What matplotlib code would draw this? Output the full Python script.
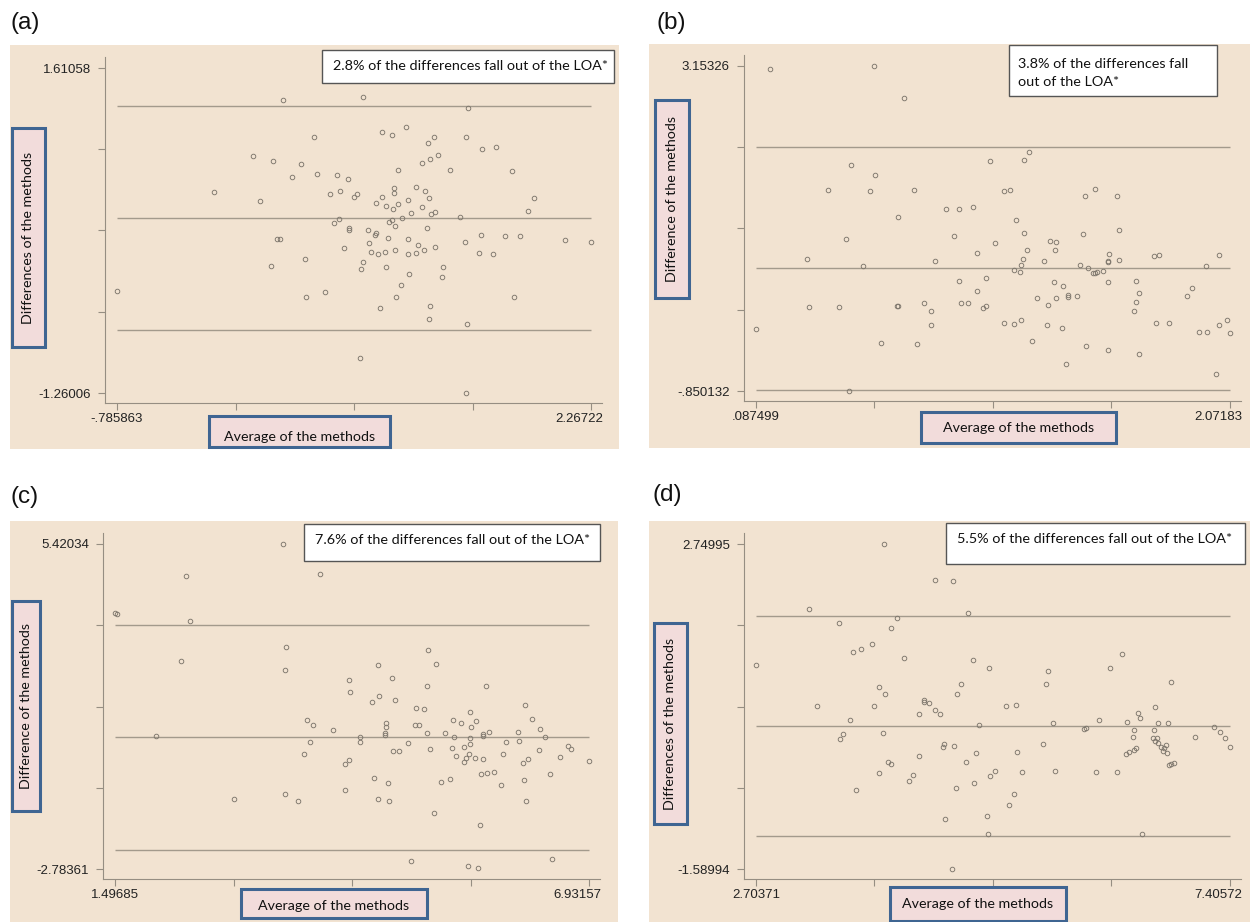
import numpy as np
import matplotlib
matplotlib.use("Agg")
import matplotlib.pyplot as plt
from matplotlib.patches import Rectangle
from matplotlib.transforms import ScaledTranslation

# ---------------- data ----------------

# (a)
a_avg = [0.286, 0.798, 1.475, 1.073, 0.921, 0.988, 0.483, 1.257, 1.460, 1.219,
         1.657, 1.567, 0.088, 1.280, 0.221, 1.229, 1.178, 0.401, 1.026, 1.357,
         1.760, 0.501, 0.634, 0.342, 0.701, 1.137, 0.998, 0.650, 1.198, -0.163,
         0.996, 0.583, 0.757, 0.739, 0.924, 1.221, 1.903, 1.088, 0.132, 0.880,
         1.026, 0.944, 1.178, 0.993, 1.860, 1.106, 1.260, 1.234, 1.424, 1.050,
         0.644, 0.985, 0.967, 0.614, 1.003, 0.711, 1.214, 0.711, 0.832, 0.880,
         0.873, 0.245, 0.263, 0.957, 1.088, 1.557, 1.713, 1.811, 2.101, 2.267,
         1.455, 0.839, 1.152, 0.678, 1.262, 1.006, 1.193, 0.850, 0.942, 0.898,
         1.091, 1.137, 1.544, 1.637, 0.427, 0.796, 0.209, 0.944, 0.785, 1.311,
         1.096, 1.306, 1.042, -0.786, 0.555, 0.434, 1.011, 1.772, 1.231, 0.908,
         1.224, 1.467, 0.778, 1.460]
a_diff = [1.331, 1.352, 1.258, 1.088, 1.049, 1.020, 0.999, 0.999, 0.999, 0.950,
          0.914, 0.891, 0.835, 0.841, 0.791, 0.806, 0.773, 0.759, 0.714, 0.706,
          0.700, 0.670, 0.665, 0.650, 0.632, 0.562, 0.550, 0.526, 0.523, 0.512,
          0.506, 0.494, 0.500, 0.471, 0.468, 0.465, 0.459, 0.447, 0.438, 0.415,
          0.412, 0.394, 0.382, 0.365, 0.347, 0.330, 0.338, 0.324, 0.294, 0.288,
          0.277, 0.265, 0.253, 0.241, 0.218, 0.194, 0.197, 0.177, 0.180, 0.150,
          0.136, 0.097, 0.097, 0.106, 0.100, 0.133, 0.124, 0.130, 0.089, 0.077,
          0.077, 0.062, 0.050, 0.018, 0.033, 0.000, 0.000, -0.011, -0.017, -0.032,
          -0.029, -0.023, -0.026, -0.029, -0.073, -0.099, -0.135, -0.146, -0.164, -0.144,
          -0.211, -0.238, -0.305, -0.355, -0.367, -0.408, -0.414, -0.411, -0.490, -0.511,
          -0.605, -0.649, -0.954, -1.260]
a_lines = [1.273, 0.2855, -0.702]          # upper LOA, mean, lower LOA
a_x_ends = [-0.785863, 2.26722]
a_y_ends = [-1.26006, 1.61058]
a_x_labels = ["-.785863", "2.26722"]
a_y_labels = ["-1.26006", "1.61058"]

# (b)
b_avg = [0.148, 0.581, 0.706, 1.230, 1.211, 1.069, 0.486, 0.587, 0.389, 0.566,
         0.749, 1.124, 1.149, 1.505, 1.464, 1.599, 0.882, 0.936, 0.994, 0.681,
         1.174, 1.607, 1.211, 1.455, 0.916, 0.464, 1.089, 1.319, 1.345, 1.222,
         1.339, 1.011, 1.564, 1.755, 1.774, 2.025, 0.299, 1.206, 0.837, 1.295,
         1.562, 1.560, 1.609, 0.537, 1.195, 1.442, 1.973, 1.477, 1.167, 1.194,
         1.542, 1.517, 1.500, 1.507, 1.050, 0.939, 1.677, 1.560, 1.334, 1.374,
         1.914, 1.014, 1.690, 1.392, 1.395, 1.432, 1.890, 1.262, 1.342, 1.677,
         0.944, 0.976, 0.791, 1.309, 1.049, 1.037, 0.311, 0.437, 0.679, 0.682,
         1.670, 0.819, 1.197, 1.126, 1.166, 1.760, 1.815, 2.059, 0.821, 1.304,
         2.024, 1.369, 0.087, 1.942, 1.977, 2.072, 0.612, 0.761, 1.244, 1.469,
         1.562, 1.689, 1.387, 2.014, 0.476]
b_diff = [3.120, 3.153, 2.763, 2.089, 1.998, 1.978, 1.928, 1.805, 1.624, 1.608,
          1.628, 1.612, 1.628, 1.641, 1.550, 1.546, 1.390, 1.386, 1.411, 1.291,
          1.254, 1.127, 1.090, 1.082, 1.057, 1.020, 0.971, 0.995, 0.987, 0.889,
          0.884, 0.852, 0.839, 0.814, 0.827, 0.823, 0.782, 0.782, 0.753, 0.753,
          0.749, 0.741, 0.765, 0.691, 0.699, 0.699, 0.691, 0.662, 0.642, 0.613,
          0.629, 0.613, 0.605, 0.605, 0.539, 0.510, 0.506, 0.490, 0.490, 0.445,
          0.416, 0.379, 0.354, 0.334, 0.305, 0.317, 0.321, 0.301, 0.297, 0.251,
          0.239, 0.235, 0.239, 0.210, 0.202, 0.173, 0.186, 0.190, 0.194, 0.194,
          0.140, 0.132, 0.021, -0.012, -0.028, -0.012, -0.008, 0.021, -0.040, -0.032,
          -0.036, -0.073, -0.082, -0.123, -0.127, -0.135, -0.258, -0.275, -0.238, -0.299,
          -0.349, -0.394, -0.521, -0.641, -0.850]
b_lines = [2.158, 0.660, -0.838]
b_x_ends = [0.087499, 2.07183]
b_y_ends = [-0.850132, 3.15326]
b_x_labels = [".087499", "2.07183"]
b_y_labels = ["-.850132", "3.15326"]

# (c)
c_avg = [3.424, 2.310, 3.844, 1.497, 1.515, 2.356, 3.461, 2.250, 3.447, 5.091,
         5.173, 4.511, 4.671, 4.178, 5.073, 5.749, 4.191, 4.529, 4.447, 4.712,
         6.201, 4.945, 5.045, 5.566, 6.283, 3.694, 5.370, 5.466, 5.635, 4.607,
         4.602, 3.762, 4.936, 4.981, 5.575, 6.375, 3.995, 4.598, 4.593, 5.077,
         5.278, 5.721, 5.790, 6.119, 6.425, 4.301, 5.388, 5.571, 5.712, 1.972,
         3.730, 4.306, 5.977, 6.128, 4.858, 5.562, 6.694, 6.721, 5.502, 5.356,
         5.114, 6.361, 4.689, 4.749, 3.662, 5.941, 5.402, 5.557, 5.520, 5.630,
         5.721, 6.594, 6.237, 4.182, 4.137, 5.493, 6.178, 6.927, 5.845, 5.758,
         5.698, 6.484, 4.466, 5.342, 6.183, 4.630, 5.237, 5.927, 4.137, 3.447,
         2.862, 4.511, 4.644, 3.598, 6.206, 5.155, 5.680, 4.890, 6.512, 5.539,
         5.662]
c_diff = [5.420, 4.622, 4.664, 3.689, 3.655, 3.470, 2.831, 2.478, 2.235, 2.756,
          2.394, 2.361, 2.033, 1.999, 1.840, 1.831, 1.697, 1.571, 1.436, 1.478,
          1.344, 1.276, 1.251, 1.184, 0.999, 0.974, 0.974, 0.906, 0.940, 0.898,
          0.806, 0.856, 0.856, 0.848, 0.797, 0.747, 0.713, 0.654, 0.595, 0.646,
          0.646, 0.629, 0.671, 0.680, 0.537, 0.545, 0.545, 0.511, 0.562, 0.570,
          0.411, 0.427, 0.427, 0.436, 0.385, 0.369, 0.326, 0.251, 0.301, 0.276,
          0.242, 0.226, 0.200, 0.200, 0.116, 0.125, 0.074, 0.108, 0.015, 0.015,
          -0.010, 0.041, -0.010, -0.043, -0.144, -0.094, -0.119, -0.069, -0.329, -0.354,
          -0.388, -0.380, -0.497, -0.523, -0.531, -0.607, -0.590, -0.657, -0.792, -0.884,
          -1.027, -1.027, -1.069, -1.077, -1.077, -1.372, -1.674, -2.574, -2.523, -2.708,
          -2.767]
c_lines = [3.386, 0.550, -2.296]
c_x_ends = [1.49685, 6.93157]
c_y_ends = [-2.78361, 5.42034]
c_x_labels = ["1.49685", "6.93157"]
c_y_labels = ["-2.78361", "5.42034"]

# (d)
d_avg = [3.975, 4.484, 4.662, 3.233, 4.808, 4.101, 3.529, 4.042, 3.857, 3.667,
         3.742, 6.332, 4.168, 4.859, 2.704, 5.017, 6.214, 5.602, 6.825, 5.578,
         4.733, 3.920, 3.987, 4.697, 4.374, 4.421, 4.366, 3.308, 3.872, 5.179,
         5.286, 6.660, 4.476, 4.318, 4.532, 6.494, 6.514, 3.639, 6.107, 6.383,
         5.649, 6.687, 6.786, 4.915, 7.248, 5.977, 5.953, 6.450, 6.652, 7.311,
         3.967, 3.564, 7.054, 6.439, 7.354, 3.537, 6.644, 6.679, 6.660, 6.695,
         4.571, 5.550, 6.766, 4.555, 4.670, 6.719, 6.747, 7.406, 6.470, 6.450,
         6.739, 6.399, 4.891, 5.294, 6.778, 6.371, 4.318, 4.018, 4.038, 4.784,
         6.849, 6.802, 6.825, 5.076, 5.341, 5.673, 6.079, 6.285, 3.924, 4.259,
         5.029, 4.220, 4.867, 3.695, 4.690, 5.266, 5.211, 4.994, 4.579, 5.001,
         6.529, 4.650]
d_diff = [2.750, 2.269, 2.256, 1.886, 1.833, 1.762, 1.695, 1.624, 1.410, 1.308,
          1.343, 1.277, 1.228, 1.205, 1.130, 1.099, 1.090, 1.059, 0.903, 0.885,
          0.885, 0.836, 0.751, 0.742, 0.662, 0.631, 0.645, 0.582, 0.587, 0.587,
          0.600, 0.578, 0.529, 0.480, 0.480, 0.493, 0.422, 0.404, 0.404, 0.378,
          0.360, 0.360, 0.364, 0.337, 0.306, 0.297, 0.280, 0.266, 0.271, 0.240,
          0.231, 0.213, 0.168, 0.173, 0.159, 0.150, 0.155, 0.164, 0.124, 0.097,
          0.079, 0.075, 0.066, 0.044, 0.052, 0.035, 0.021, 0.035, 0.030, -0.001,
          -0.019, -0.023, -0.037, -0.032, -0.037, -0.054, -0.081, -0.161, -0.183, -0.166,
          -0.170, -0.201, -0.183, -0.277, -0.295, -0.281, -0.295, -0.295, -0.308, -0.330,
          -0.353, -0.415, -0.446, -0.531, -0.513, -0.589, -0.731, -0.878, -0.927, -1.118,
          -1.118, -1.590]
d_lines = [1.793, 0.324, -1.149]
d_x_ends = [2.70371, 7.40572]
d_y_ends = [-1.58994, 2.74995]
d_x_labels = ["2.70371", "7.40572"]
d_y_labels = ["-1.58994", "2.74995"]

# ---------------- styling ----------------
W, H = 1250, 922
BEIGE = "#F2E3D1"
PINK = "#F2DCDB"
BLUE = "#3F6592"
LINE = "#A39A8C"
AXIS = "#968E82"
MARK = "#7D766C"
NOTE_FONT = ["Lato", "DejaVu Sans"]
TICK_FONT = ["Liberation Sans", "DejaVu Sans"]

# plot area in pixels: data span plus Stata-like margins
DATA_W, DATA_H = 474, 325
M_LEFT, M_RIGHT, M_TOP, M_BOTTOM = 12, 11, 11, 10
AX_W = DATA_W + M_LEFT + M_RIGHT
AX_H = DATA_H + M_TOP + M_BOTTOM


def fx(px):
    return px / W


def fy(py):
    return 1 - py / H


def add_box(fig, x0, y0, x1, y1, face, edge, lw, z):
    rect = Rectangle((fx(x0), fy(y1)), (x1 - x0) / W, (y1 - y0) / H,
                     transform=fig.transFigure, facecolor=face,
                     edgecolor=edge, linewidth=lw, zorder=z)
    fig.add_artist(rect)


def draw_panel(fig, avg, diff, lines, x_ends, y_ends, x_labels, y_labels,
               letter, note, ylabel, lay):
    # beige panel background
    bx0, by0, bx1, by1 = lay["bg"]
    add_box(fig, bx0, by0, bx1, by1, BEIGE, "none", 0, -2)

    left, top = lay["axes"]
    ax = fig.add_axes([fx(left), fy(top + AX_H), AX_W / W, AX_H / H])
    ax.set_facecolor("none")

    dx = x_ends[1] - x_ends[0]
    dy = y_ends[1] - y_ends[0]
    ax.set_xlim(x_ends[0] - dx * M_LEFT / DATA_W, x_ends[1] + dx * M_RIGHT / DATA_W)
    ax.set_ylim(y_ends[0] - dy * M_BOTTOM / DATA_H, y_ends[1] + dy * M_TOP / DATA_H)

    # mean and limits of agreement
    ax.hlines(lines, x_ends[0], x_ends[1], color=LINE, linewidth=1.0)
    ax.plot(avg, diff, "o", markerfacecolor="none", markeredgecolor=MARK,
            markersize=3.3, markeredgewidth=0.65, linestyle="none")

    ax.set_xticks(np.linspace(x_ends[0], x_ends[1], 5),
                  [x_labels[0], "", "", "", x_labels[1]])
    ax.set_yticks(np.linspace(y_ends[0], y_ends[1], 5),
                  [y_labels[0], "", "", "", y_labels[1]])
    for side in ["top", "right"]:
        ax.spines[side].set_visible(False)
    for side in ["left", "bottom"]:
        ax.spines[side].set_color(AXIS)
        ax.spines[side].set_linewidth(0.8)
    ax.tick_params(axis="both", direction="out", length=5.2, width=0.8,
                   color=AXIS, labelcolor="#222222", labelsize=9.5)
    ax.tick_params(axis="x", pad=2)
    ax.tick_params(axis="y", pad=5)
    for lab in ax.get_xticklabels() + ax.get_yticklabels():
        lab.set_family(TICK_FONT)
    # Stata keeps the last x label inside the plot region
    last = ax.get_xticklabels()[-1]
    last.set_horizontalalignment("right")
    last.set_transform(last.get_transform() + ScaledTranslation(12 / 100, 0, fig.dpi_scale_trans))

    # panel letter
    lx, ly = lay["letter"]
    fig.text(fx(lx), fy(ly), letter, ha="left", va="center", fontsize=17.5,
             family=TICK_FONT, color="#111111")

    # note box
    nx0, ny0, nx1, ny1 = lay["note_box"]
    add_box(fig, nx0, ny0, nx1, ny1, "white", "#555555", 1.0, 3)
    tx, ty = lay["note_xy"]
    fig.text(fx(tx), fy(ty), note, ha="left", va="center", fontsize=10.4,
             family=NOTE_FONT, color="#111111", linespacing=1.7, zorder=4)

    # y label box
    yx0, yy0, yx1, yy1 = lay["ylab_box"]
    add_box(fig, yx0, yy0, yx1, yy1, PINK, BLUE, 2.2, 3)
    fig.text(fx((yx0 + yx1) / 2), fy((yy0 + yy1) / 2), ylabel, rotation=90,
             ha="center", va="center", fontsize=10.3, family=NOTE_FONT,
             color="#111111", zorder=4)

    # x label box
    xx0, xy0, xx1, xy1 = lay["xlab_box"]
    add_box(fig, xx0, xy0, xx1, xy1, PINK, BLUE, 2.2, 3)
    fig.text(fx((xx0 + xx1) / 2), fy(lay["xlab_y"]), "Average of the methods",
             ha="center", va="center", fontsize=10.3, family=NOTE_FONT,
             color="#111111", zorder=4)
    return ax


fig = plt.figure(figsize=(W / 100, H / 100), dpi=100)
fig.patch.set_facecolor("white")

draw_panel(fig, a_avg, a_diff, a_lines, a_x_ends, a_y_ends, a_x_labels, a_y_labels,
           "(a)", "2.8% of the differences fall out of the LOA*",
           "Differences of the methods",
           dict(bg=(10, 45, 619, 449), axes=(105, 57), letter=(10, 23),
                note_box=(322, 50, 614, 83), note_xy=(333, 66),
                ylab_box=(12, 128, 45, 347), xlab_box=(209, 416, 390, 447),
                xlab_y=437))

draw_panel(fig, b_avg, b_diff, b_lines, b_x_ends, b_y_ends, b_x_labels, b_y_labels,
           "(b)", "3.8% of the differences fall\nout of the LOA*",
           "Difference of the methods",
           dict(bg=(649, 44, 1250, 448), axes=(744, 55), letter=(657, 23),
                note_box=(1009, 45, 1217, 96), note_xy=(1018, 73),
                ylab_box=(655, 100, 689, 298), xlab_box=(921, 412, 1116, 443),
                xlab_y=428))

draw_panel(fig, c_avg, c_diff, c_lines, c_x_ends, c_y_ends, c_x_labels, c_y_labels,
           "(c)", "7.6% of the differences fall out of the LOA*",
           "Difference of the methods",
           dict(bg=(10, 521, 618, 922), axes=(103, 533), letter=(10, 497),
                note_box=(304, 524, 600, 561), note_xy=(315, 540),
                ylab_box=(12, 601, 40, 811), xlab_box=(241, 889, 427, 918),
                xlab_y=906))

draw_panel(fig, d_avg, d_diff, d_lines, d_x_ends, d_y_ends, d_x_labels, d_y_labels,
           "(d)", "5.5% of the differences fall out of the LOA*",
           "Differences of the methods",
           dict(bg=(649, 521, 1250, 922), axes=(744, 533), letter=(653, 495),
                note_box=(946, 523, 1245, 564), note_xy=(957, 539),
                ylab_box=(654, 623, 687, 824), xlab_box=(890, 887, 1066, 921),
                xlab_y=904))

fig.savefig("out.png", dpi=100, facecolor="white")
